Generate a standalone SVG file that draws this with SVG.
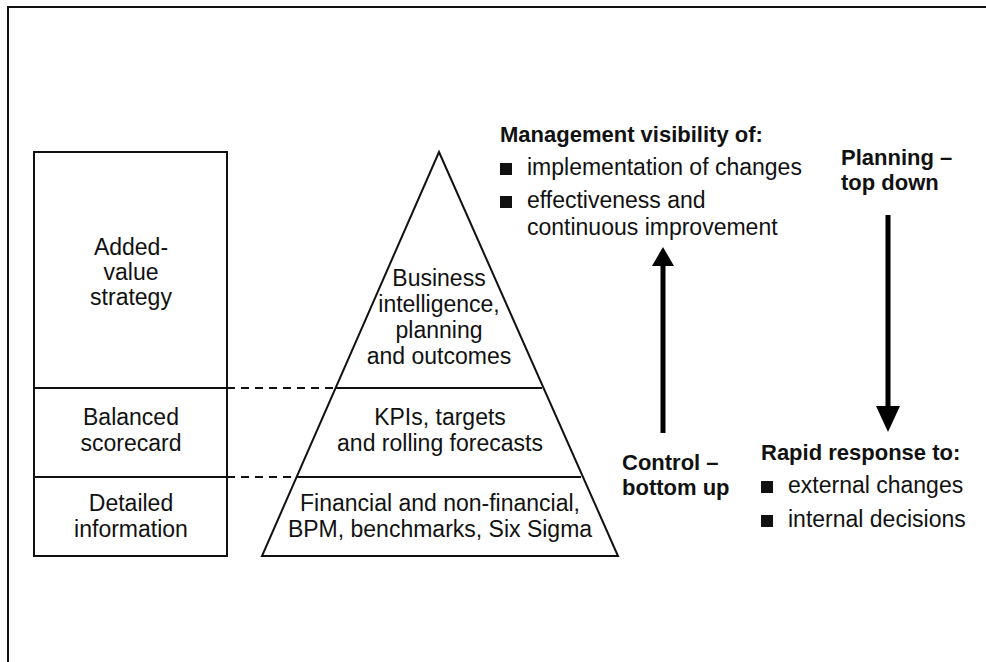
<svg xmlns="http://www.w3.org/2000/svg" width="986" height="662" viewBox="0 0 986 662">
<style>
.t{font-family:"Liberation Sans",Arial,sans-serif;font-size:23px;fill:#111}
.c{text-anchor:middle}
.b{font-weight:bold;font-size:22px}
.ln{stroke:#111;stroke-width:2;fill:none}
.ds{stroke:#111;stroke-width:2;stroke-dasharray:8 6;fill:none}
.sh{stroke:#000;stroke-width:5;fill:none}
.bul{fill:#111}
</style>
<rect width="986" height="662" fill="#fff"/>
<g id="frame">
<path d="M8 662 V7 H986" class="ln"/>
</g>
<g id="levels-box">
<rect x="34" y="152" width="193" height="404" class="ln"/>
<line x1="34" y1="388" x2="227" y2="388" class="ln"/>
<line x1="34" y1="477" x2="227" y2="477" class="ln"/>
<text class="t c" x="131" y="255">Added-</text>
<text class="t c" x="131" y="280">value</text>
<text class="t c" x="131" y="305">strategy</text>
<text class="t c" x="131" y="425">Balanced</text>
<text class="t c" x="131" y="451">scorecard</text>
<text class="t c" x="131" y="511">Detailed</text>
<text class="t c" x="131" y="537">information</text>
</g>
<g id="pyramid">
<polygon points="439,152 618,556 262,556" class="ln" stroke-linejoin="miter"/>
<line x1="336" y1="388" x2="542" y2="388" class="ln"/>
<line x1="297" y1="477" x2="581" y2="477" class="ln"/>
<text class="t c" x="439" y="286">Business</text>
<text class="t c" x="439" y="312">intelligence,</text>
<text class="t c" x="439" y="338">planning</text>
<text class="t c" x="439" y="364">and outcomes</text>
<text class="t c" x="440" y="425">KPIs, targets</text>
<text class="t c" x="440" y="451">and rolling forecasts</text>
<text class="t c" x="440" y="511">Financial and non-financial,</text>
<text class="t c" x="440" y="537">BPM, benchmarks, Six Sigma</text>
</g>
<g id="connectors">
<line x1="227" y1="388" x2="336" y2="388" class="ds"/>
<line x1="227" y1="477" x2="297" y2="477" class="ds"/>
<line x1="663" y1="433" x2="663" y2="264" class="sh"/>
<polygon points="663,247 674,266 652,266" fill="#000"/>
<line x1="888" y1="215" x2="888" y2="408" class="sh"/>
<polygon points="888,432 876,406 900,406" fill="#000"/>
</g>
<g id="management">
<text class="t b" x="500" y="142">Management visibility of:</text>
<rect class="bul" x="500" y="163" width="12" height="12"/>
<text class="t" x="527" y="175">implementation of changes</text>
<rect class="bul" x="500" y="196" width="12" height="12"/>
<text class="t" x="527" y="208">effectiveness and</text>
<text class="t" x="527" y="235">continuous improvement</text>
</g>
<g id="planning">
<text class="t b" x="841" y="165">Planning –</text>
<text class="t b" x="841" y="190">top down</text>
</g>
<g id="control">
<text class="t b" x="622" y="470">Control –</text>
<text class="t b" x="622" y="495">bottom up</text>
</g>
<g id="rapid">
<text class="t b" x="761" y="460">Rapid response to:</text>
<rect class="bul" x="761" y="481" width="12" height="12"/>
<text class="t" x="788" y="493">external changes</text>
<rect class="bul" x="761" y="515" width="12" height="12"/>
<text class="t" x="788" y="527">internal decisions</text>
</g>
</svg>
